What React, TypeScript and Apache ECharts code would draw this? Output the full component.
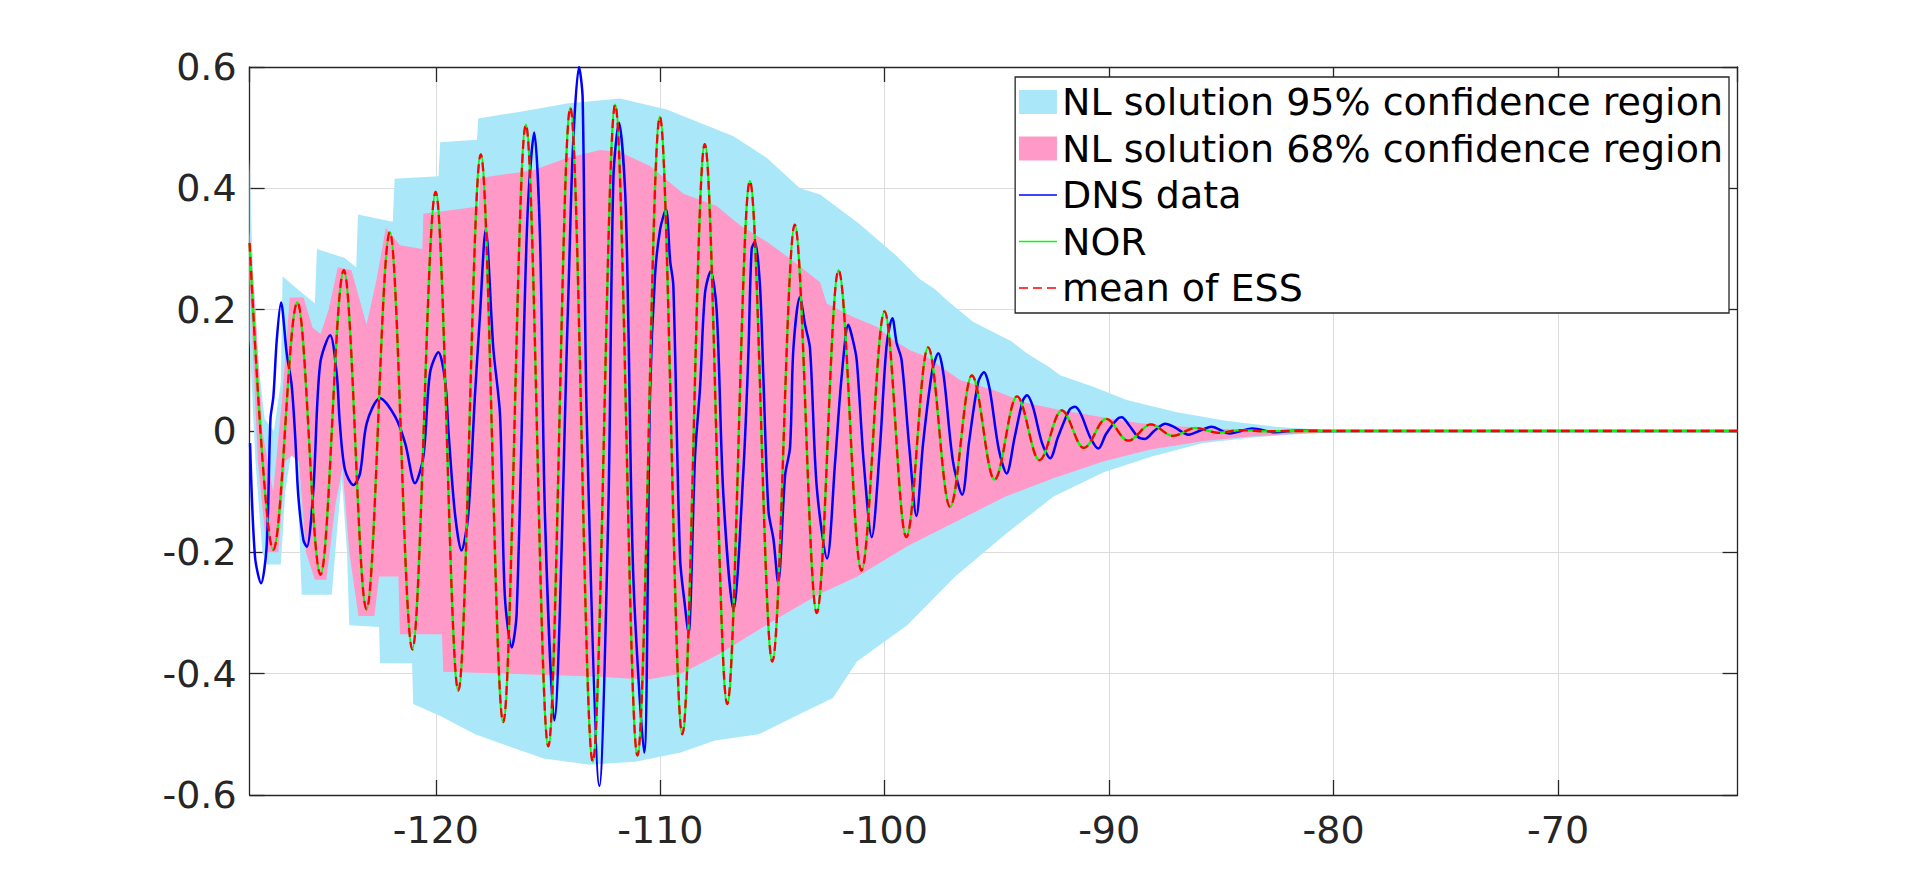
import React, { useEffect, useRef } from "react";
import * as echarts from "echarts";

const X_MIN = -128.3;
const X_MAX = -62.0;
const Y_MIN = -0.6;
const Y_MAX = 0.6;

const LEGEND_NAMES = [
  "NL solution 95% confidence region",
  "NL solution 68% confidence region",
  "DNS data",
  "NOR",
  "mean of ESS",
];

// NOR solution: successive extremes (peaks / troughs)
const norExtremes: [number, number][] = [
  [-128.3, 0.31], [-127.25, -0.196], [-126.17, 0.212], [-125.14, -0.237],
  [-124.1, 0.265], [-123.09, -0.294], [-122.05, 0.328], [-121.05, -0.36],
  [-120.01, 0.394], [-119.0, -0.428], [-118.0, 0.456], [-117.0, -0.48],
  [-115.99, 0.505], [-114.99, -0.52], [-114.01, 0.533], [-113.01, -0.545],
  [-112.01, 0.538], [-111.02, -0.535], [-110.02, 0.518], [-109.02, -0.5],
  [-108.02, 0.473], [-107.02, -0.45], [-106.01, 0.412], [-105.01, -0.38],
  [-104.01, 0.34], [-103.03, -0.3], [-102.06, 0.265], [-101.04, -0.23],
  [-100.01, 0.197], [-99.04, -0.175], [-98.07, 0.138], [-97.09, -0.125],
  [-96.12, 0.0915], [-95.11, -0.08], [-94.11, 0.057], [-93.11, -0.048],
  [-92.12, 0.034], [-91.13, -0.028], [-90.14, 0.02], [-89.15, -0.016],
  [-88.15, 0.011], [-87.16, -0.008], [-86.16, 0.005], [-85.14, -0.003],
  [-84.12, 0.0015], [-83.11, -0.0005], [-82.09, 0], [-62.0, 0],
];

// mean of the ESS ensemble coincides with the NOR curve
const essMeanExtremes: [number, number][] = norExtremes.map((p) => [p[0], p[1]]);

// DNS data
const dnsData: [number, number][] = [
  [-128.28, -0.02], [-128.06, -0.207], [-127.79, -0.251], [-127.54, -0.19],
  [-127.37, 0.02], [-127.24, 0.057], [-127.09, 0.15], [-126.9, 0.212],
  [-126.65, 0.129], [-126.43, 0.077], [-126.27, -0.008], [-126.13, -0.107],
  [-125.9, -0.18], [-125.75, -0.191], [-125.46, -0.097], [-125.16, 0.11],
  [-124.71, 0.158], [-124.42, 0.095], [-124.28, 0.013], [-124.05, -0.064],
  [-123.67, -0.089], [-123.38, -0.07], [-123.08, 0.013], [-122.49, 0.054],
  [-121.82, 0.024], [-121.37, -0.02], [-120.93, -0.086], [-120.56, -0.043],
  [-120.26, 0.096], [-119.89, 0.13], [-119.59, 0.084], [-119.44, 0.0],
  [-119.15, -0.136], [-118.86, -0.197], [-118.56, -0.139], [-118.26, 0.058],
  [-118.04, 0.188], [-117.78, 0.332], [-117.44, 0.136], [-117.14, 0.025],
  [-116.93, -0.27], [-116.62, -0.357], [-116.4, -0.3], [-116.03, 0.227],
  [-115.88, 0.384], [-115.62, 0.492], [-115.36, 0.319], [-115.14, -0.139],
  [-114.73, -0.477], [-114.1, 0.221], [-113.89, 0.47], [-113.62, 0.6],
  [-113.46, 0.548], [-113.28, 0.025], [-112.71, -0.585], [-112.32, -0.139],
  [-112.09, 0.417], [-111.84, 0.508], [-111.57, 0.397], [-111.43, 0.188],
  [-111.2, -0.243], [-110.72, -0.53], [-110.46, 0.058], [-110.24, 0.254],
  [-110.01, 0.332], [-109.75, 0.365], [-109.56, 0.28], [-109.42, 0.24],
  [-109.12, -0.21], [-108.9, -0.289], [-108.75, -0.335], [-108.45, -0.04],
  [-108.23, 0.071], [-108.01, 0.227], [-107.76, 0.263], [-107.49, 0.2],
  [-107.19, -0.106], [-106.74, -0.295], [-106.3, -0.067], [-106.08, 0.123],
  [-105.93, 0.3], [-105.78, 0.312], [-105.56, 0.24], [-105.41, 0.09],
  [-105.18, -0.132], [-104.96, -0.178], [-104.75, -0.25], [-104.44, -0.073],
  [-104.22, -0.027], [-104.07, 0.136], [-103.78, 0.221], [-103.55, 0.175],
  [-103.33, 0.136], [-103.03, -0.092], [-102.57, -0.21], [-102.21, -0.05],
  [-101.92, 0.09], [-101.62, 0.175], [-101.46, 0.156], [-101.25, 0.117],
  [-100.94, -0.05], [-100.58, -0.175], [-100.22, -0.03], [-99.92, 0.14],
  [-99.66, 0.186], [-99.47, 0.145], [-99.25, 0.117], [-98.9, -0.03],
  [-98.59, -0.14], [-98.29, -0.02], [-97.88, 0.1], [-97.61, 0.128],
  [-97.37, 0.09], [-96.96, -0.05], [-96.55, -0.105], [-96.25, -0.02],
  [-95.84, 0.08], [-95.58, 0.097], [-95.33, 0.07], [-94.92, -0.03],
  [-94.57, -0.07], [-94.21, -0.01], [-93.85, 0.05], [-93.66, 0.059],
  [-93.4, 0.04], [-92.99, -0.02], [-92.63, -0.045], [-92.28, -0.01],
  [-91.77, 0.035], [-91.52, 0.04], [-91.26, 0.028], [-90.85, -0.01],
  [-90.48, -0.029], [-90.14, -0.005], [-89.63, 0.02], [-89.44, 0.0226],
  [-89.12, 0.01], [-88.71, -0.01], [-88.4, -0.013], [-88.0, 0.0],
  [-87.49, 0.012], [-87.08, 0.006], [-86.47, -0.006], [-85.86, 0.002],
  [-85.45, 0.007], [-84.63, -0.004], [-83.62, 0.004], [-82.6, -0.002],
  [-81.58, 0.001], [-80.05, 0], [-62.0, 0],
];

// 95% confidence region boundaries
const ci95Upper: [number, number][] = [
  [-128.3, 0.45], [-128.19, 0.3], [-127.93, 0.12], [-127.63, 0.02], [-127.22, 0.0],
  [-126.91, 0.08], [-126.83, 0.255], [-126.2, 0.235], [-125.39, 0.21], [-125.3, 0.3],
  [-124.06, 0.285], [-123.55, 0.27], [-123.47, 0.357], [-121.92, 0.345], [-121.84, 0.416],
  [-119.88, 0.42], [-119.81, 0.476], [-118.17, 0.48], [-118.11, 0.515], [-115.66, 0.53],
  [-114.17, 0.54], [-111.8, 0.548], [-109.72, 0.53], [-106.74, 0.486], [-105.25, 0.45],
  [-103.78, 0.4], [-102.88, 0.39], [-101.18, 0.343], [-99.48, 0.289], [-98.43, 0.25],
  [-97.77, 0.234], [-97.24, 0.216], [-96.07, 0.18], [-94.36, 0.148], [-93.67, 0.128],
  [-92.66, 0.105], [-92.19, 0.092], [-90.71, 0.073], [-89.22, 0.051], [-86.98, 0.031],
  [-84.81, 0.017], [-82.6, 0.007], [-80.46, 0.002], [-78.01, 0.0005], [-62.0, 0],
];
const ci95Lower: [number, number][] = [
  [-128.3, 0.15], [-128.04, -0.05], [-127.73, -0.2], [-127.53, -0.22], [-126.91, -0.22],
  [-126.71, -0.1], [-126.46, -0.04], [-126.2, -0.05], [-125.98, -0.27], [-124.64, -0.27],
  [-124.37, -0.15], [-124.19, -0.08], [-123.96, -0.2], [-123.86, -0.32], [-122.53, -0.323],
  [-122.49, -0.383], [-121.06, -0.383], [-121.01, -0.45], [-119.78, -0.47], [-118.25, -0.5],
  [-116.73, -0.52], [-115.2, -0.54], [-113.16, -0.55], [-111.12, -0.545], [-109.09, -0.53],
  [-107.56, -0.51], [-105.62, -0.5], [-103.99, -0.47], [-102.31, -0.44], [-101.24, -0.38],
  [-99.0, -0.32], [-96.86, -0.24], [-94.62, -0.17], [-92.48, -0.108], [-90.24, -0.068],
  [-88.1, -0.042], [-85.86, -0.02], [-83.72, -0.011], [-81.48, -0.005], [-79.34, -0.002],
  [-76.99, -0.0005], [-62.0, 0],
];

// 68% confidence region boundaries
const ci68Upper: [number, number][] = [
  [-128.3, 0.33], [-128.04, 0.2], [-127.73, 0.0], [-127.25, -0.1], [-126.86, 0.05],
  [-126.51, 0.22], [-125.9, 0.22], [-125.49, 0.17], [-125.14, 0.16], [-124.78, 0.2],
  [-124.37, 0.27], [-123.76, 0.265], [-123.09, 0.175], [-122.64, 0.25], [-122.23, 0.335],
  [-121.6, 0.306], [-120.6, 0.3], [-120.56, 0.358], [-118.08, 0.37], [-118.03, 0.417],
  [-115.66, 0.43], [-114.17, 0.45], [-112.68, 0.463], [-111.8, 0.46], [-110.46, 0.437],
  [-108.97, 0.391], [-107.49, 0.371], [-106.45, 0.339], [-105.25, 0.312], [-104.07, 0.28],
  [-102.88, 0.245], [-102.59, 0.21], [-101.4, 0.188], [-100.35, 0.172], [-99.62, 0.15],
  [-98.88, 0.133], [-98.13, 0.1225], [-96.65, 0.084], [-95.16, 0.0676], [-93.67, 0.046],
  [-92.19, 0.0346], [-90.41, 0.0236], [-88.63, 0.0127], [-86.67, 0.007], [-84.63, 0.003],
  [-82.09, 0.001], [-79.03, 0], [-62.0, 0],
];
const ci68Lower: [number, number][] = [
  [-128.3, 0.25], [-127.93, -0.05], [-127.53, -0.2], [-127.02, -0.2], [-126.71, -0.05],
  [-126.4, -0.04], [-126.1, -0.05], [-125.79, -0.2], [-125.39, -0.245], [-124.88, -0.245],
  [-124.47, -0.12], [-124.16, -0.06], [-123.86, -0.2], [-123.45, -0.305], [-122.74, -0.305],
  [-122.53, -0.24], [-121.67, -0.24], [-121.6, -0.335], [-119.73, -0.335], [-119.67, -0.397],
  [-116.73, -0.4], [-112.68, -0.405], [-110.61, -0.41], [-109.09, -0.4], [-107.35, -0.367],
  [-104.66, -0.306], [-102.97, -0.27], [-101.22, -0.24], [-99.0, -0.19], [-96.86, -0.15],
  [-94.62, -0.108], [-92.48, -0.078], [-90.24, -0.05], [-88.1, -0.03], [-85.86, -0.017],
  [-83.72, -0.009], [-81.48, -0.004], [-79.34, -0.001], [-76.99, 0], [-62.0, 0],
];

const COLOR_95 = "#aae8f9";
const COLOR_68 = "#fe99c8";
const AXIS_COLOR = "#262626";
const FONT = "DejaVu Sans";

function bandSeries(name: string, upper: [number, number][], lower: [number, number][], color: string) {
  return {
    type: "custom",
    name,
    coordinateSystem: "cartesian2d",
    xAxisIndex: 0,
    yAxisIndex: 0,
    silent: true,
    z: 1,
    itemStyle: { color },
    data: [[-100, 0]],
    renderItem: (_params: any, api: any) => {
      const pts = upper
        .map((p) => api.coord(p))
        .concat(lower.slice().reverse().map((p) => api.coord(p)));
      return {
        type: "polygon",
        shape: { points: pts },
        style: { fill: color, stroke: null },
      };
    },
  };
}

export default function App() {
  const ref = useRef<HTMLDivElement>(null);
  useEffect(() => {
    if (!ref.current) return;
    const chart = echarts.init(ref.current, undefined, { renderer: "svg" });
    const tickStyle = { show: true, inside: true, length: 15, lineStyle: { color: AXIS_COLOR, width: 1.3 } };
    const lineStyleAxis = { show: true, onZero: false, lineStyle: { color: AXIS_COLOR, width: 1.3 } };
    const hiddenSymbol = { opacity: 0 };
    const option: any = {
      animation: false,
      backgroundColor: "#ffffff",
      grid: { left: 249.6, top: 67, width: 1488, height: 728, containLabel: false },
      xAxis: [
        {
          type: "value",
          min: X_MIN,
          max: X_MAX,
          splitNumber: 5,
          axisLine: lineStyleAxis,
          axisTick: tickStyle,
          axisLabel: {
            show: true,
            showMinLabel: false,
            showMaxLabel: false,
            color: AXIS_COLOR,
            fontSize: 38,
            fontFamily: FONT,
            margin: 16,
          },
          splitLine: { show: true, lineStyle: { color: "#dcdcdc", width: 1 } },
        },
        {
          type: "value",
          position: "top",
          min: X_MIN,
          max: X_MAX,
          splitNumber: 5,
          axisLine: lineStyleAxis,
          axisTick: tickStyle,
          axisLabel: { show: false },
          splitLine: { show: false },
        },
      ],
      yAxis: [
        {
          type: "value",
          min: Y_MIN,
          max: Y_MAX,
          interval: 0.2,
          axisLine: lineStyleAxis,
          axisTick: tickStyle,
          axisLabel: { color: AXIS_COLOR, fontSize: 38, fontFamily: FONT, margin: 13 },
          splitLine: { show: true, lineStyle: { color: "#dcdcdc", width: 1 } },
        },
        {
          type: "value",
          position: "right",
          min: Y_MIN,
          max: Y_MAX,
          interval: 0.2,
          axisLine: lineStyleAxis,
          axisTick: tickStyle,
          axisLabel: { show: false },
          splitLine: { show: false },
        },
      ],
      legend: {
        show: true,
        orient: "vertical",
        right: 191,
        top: 77,
        selectedMode: false,
        backgroundColor: "#ffffff",
        borderColor: AXIS_COLOR,
        borderWidth: 1.3,
        padding: [2, 6, 2, 3],
        itemGap: 0.5,
        itemWidth: 38,
        itemHeight: 24,
        textStyle: { fontSize: 38, fontFamily: FONT, color: "#000000", lineHeight: 46 },
        data: [
          { name: LEGEND_NAMES[0], icon: "rect" },
          { name: LEGEND_NAMES[1], icon: "rect" },
          { name: LEGEND_NAMES[2], itemStyle: hiddenSymbol, lineStyle: { width: 1.6 } },
          { name: LEGEND_NAMES[3], itemStyle: hiddenSymbol, lineStyle: { width: 1.6 } },
          { name: LEGEND_NAMES[4], itemStyle: hiddenSymbol, lineStyle: { width: 1.6 } },
        ],
      },
      series: [
        bandSeries(LEGEND_NAMES[0], ci95Upper, ci95Lower, COLOR_95),
        bandSeries(LEGEND_NAMES[1], ci68Upper, ci68Lower, COLOR_68),
        {
          type: "line",
          name: LEGEND_NAMES[2],
          data: dnsData,
          symbol: "none",
          showSymbol: false,
          smooth: 0.3,
          silent: true,
          z: 3,
          itemStyle: { color: "#0000ff" },
          lineStyle: { color: "#0000ff", width: 2.5 },
        },
        {
          type: "line",
          name: LEGEND_NAMES[3],
          data: norExtremes,
          symbol: "none",
          showSymbol: false,
          smooth: 0.36,
          smoothMonotone: "x",
          silent: true,
          z: 4,
          itemStyle: { color: "#00ff00" },
          lineStyle: { color: "#00ff00", width: 2.3 },
        },
        {
          type: "line",
          name: LEGEND_NAMES[4],
          data: essMeanExtremes,
          symbol: "none",
          showSymbol: false,
          smooth: 0.36,
          smoothMonotone: "x",
          silent: true,
          z: 5,
          itemStyle: { color: "#ff0000" },
          lineStyle: { color: "#ff0000", width: 2.3, type: [9, 5] },
        },
      ],
    };
    chart.setOption(option);
    return () => chart.dispose();
  }, []);
  return (
    <div
      ref={ref}
      style={{ position: "fixed", left: 0, top: 0, width: 1920, height: 893, background: "#fff" }}
    />
  );
}
